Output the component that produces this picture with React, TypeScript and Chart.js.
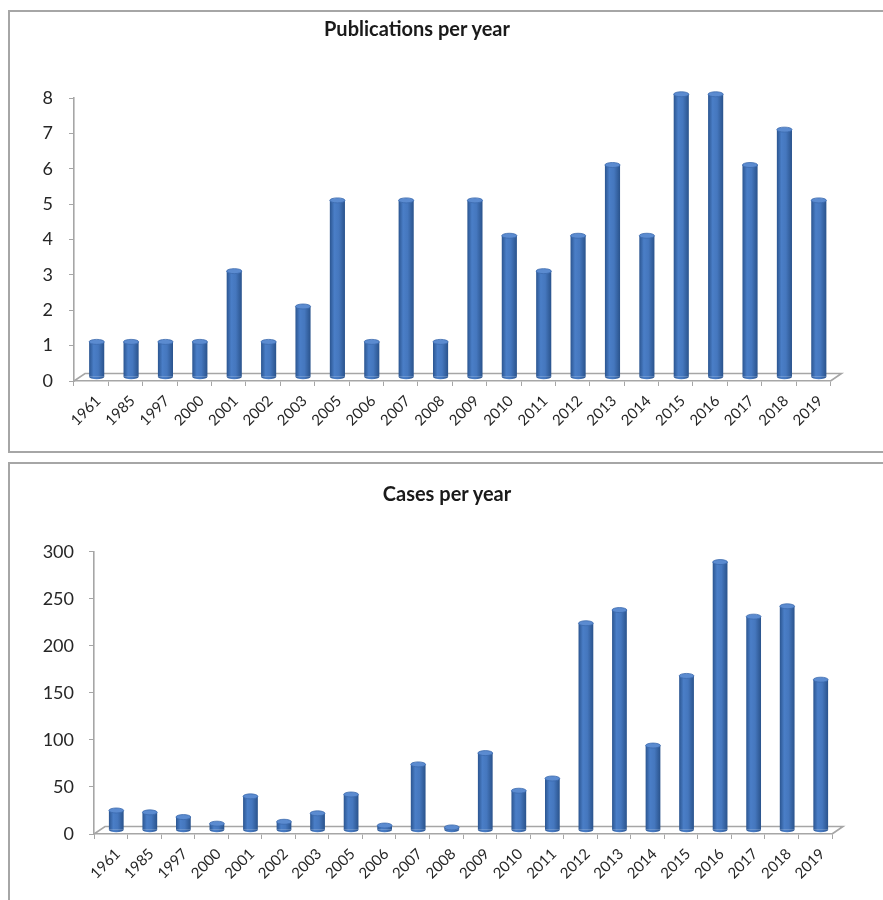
import React, { useEffect, useRef } from "react";
import { Chart, registerables } from "chart.js";

Chart.register(...registerables);

// Categories shared by both panels
const years = [
  "1961", "1985", "1997", "2000", "2001", "2002", "2003", "2005", "2006", "2007", "2008",
  "2009", "2010", "2011", "2012", "2013", "2014", "2015", "2016", "2017", "2018", "2019",
];

// Number of publications for each year
const publications = [1, 1, 1, 1, 3, 1, 2, 5, 1, 5, 1, 5, 4, 3, 4, 6, 4, 8, 8, 6, 7, 5];

// Number of reported cases for each year
const cases = [21, 19, 14, 7, 36, 9, 18, 38, 5, 70, 3, 82, 42, 55, 220, 234, 90, 164, 285, 227, 238, 160];

// Value-axis ranges
const publicationAxis = [0, 8, 1]; // min, max, step
const caseAxis = [0, 300, 50];

const FONT = "Lato, 'Open Sans', sans-serif";
const AXIS_GREY = "#a6a6a6";
const DEPTH_X = 11;
const DEPTH_Y = 7.5;

// Draws a pseudo-3D floor and cylinder-style columns around the regular bar drawing.
const cylinderPlugin = {
  id: "cylinder3d",
  beforeDatasetsDraw(chart: any) {
    const { ctx, chartArea: a } = chart;
    ctx.save();
    ctx.strokeStyle = AXIS_GREY;
    ctx.lineWidth = 1.6;
    ctx.beginPath();
    ctx.moveTo(a.left, a.bottom);
    ctx.lineTo(a.left + DEPTH_X, a.bottom - DEPTH_Y);
    ctx.lineTo(a.right + DEPTH_X, a.bottom - DEPTH_Y);
    ctx.lineTo(a.right, a.bottom);
    ctx.stroke();
    ctx.restore();

    ctx.save();
    ctx.translate(DEPTH_X / 2, -DEPTH_Y / 2);
    const meta = chart.getDatasetMeta(0);
    meta.data.forEach((bar: any) => {
      const { x, width } = bar.getProps(["x", "width"], true);
      const g = ctx.createLinearGradient(x - width / 2, 0, x + width / 2, 0);
      g.addColorStop(0, "#2b5590");
      g.addColorStop(0.3, "#4a7ec7");
      g.addColorStop(0.6, "#4577be");
      g.addColorStop(1, "#2a538c");
      bar.options = { ...bar.options, backgroundColor: g };
    });
  },
  afterDatasetsDraw(chart: any) {
    const { ctx } = chart;
    const meta = chart.getDatasetMeta(0);
    meta.data.forEach((bar: any) => {
      const { x, y, base, width } = bar.getProps(["x", "y", "base", "width"], true);
      const rx = width / 2;
      const ry = 2.5;
      // rounded bottom
      ctx.beginPath();
      ctx.ellipse(x, base, rx, ry, 0, 0, Math.PI);
      ctx.fillStyle = bar.options.backgroundColor;
      ctx.fill();
      // top cap
      ctx.beginPath();
      ctx.ellipse(x, y, rx, ry, 0, 0, Math.PI * 2);
      ctx.fillStyle = "#5b8bd0";
      ctx.fill();
      ctx.strokeStyle = "#3b69ad";
      ctx.lineWidth = 0.8;
      ctx.stroke();
    });
    ctx.restore();
  },
};

type PanelProps = {
  title: string;
  values: number[];
  axis: number[];
  top: number;
  height: number;
  canvasHeight: number;
  area: { left: number; right: number; top: number; bottom: number };
  titleCenter: number;
  titleTop: number;
  labelPadding: number;
};

function BarPanel(props: PanelProps) {
  const ref = useRef<HTMLCanvasElement | null>(null);
  const canvasWidth = 873;

  useEffect(() => {
    if (!ref.current) return;
    const { area, canvasHeight, values, axis, labelPadding } = props;
    const chart = new Chart(ref.current, {
      type: "bar",
      data: {
        labels: years,
        datasets: [
          {
            data: values,
            backgroundColor: "#4577be",
            borderWidth: 0,
            barPercentage: 0.44,
            categoryPercentage: 1,
            clip: false as any,
          },
        ],
      },
      options: {
        animation: false,
        responsive: false,
        events: [],
        layout: {
          padding: { left: 0, top: area.top, right: canvasWidth - area.right, bottom: 0 },
        },
        plugins: { legend: { display: false }, tooltip: { enabled: false }, title: { display: false } },
        scales: {
          x: {
            grid: { drawOnChartArea: false, drawTicks: true, tickLength: 5, color: AXIS_GREY, offset: true },
            border: { display: true, color: AXIS_GREY, width: 1.6 },
            ticks: {
              autoSkip: false,
              maxRotation: 45,
              minRotation: 45,
              padding: 6,
              labelOffset: 7,
              color: "#262626",
              font: { family: FONT, size: 15 },
            },
            afterFit: (s: any) => {
              s.height = canvasHeight - area.bottom;
            },
          },
          y: {
            min: axis[0],
            max: axis[1],
            grid: { drawOnChartArea: false, drawTicks: true, tickLength: 5, color: AXIS_GREY },
            border: { display: true, color: AXIS_GREY, width: 1.6 },
            ticks: {
              stepSize: axis[2],
              padding: labelPadding,
              color: "#262626",
              font: { family: FONT, size: 18 },
            },
            afterFit: (s: any) => {
              s.width = area.left;
            },
          },
        },
      },
      plugins: [cylinderPlugin],
    });
    return () => chart.destroy();
  }, []);

  return (
    <div
      style={{
        position: "absolute",
        left: 0,
        top: props.top,
        width: 900,
        height: props.height,
        boxSizing: "border-box",
        border: "2px solid #a6a6a6",
        background: "#fff",
      }}
    >
      <div
        style={{
          position: "absolute",
          left: props.titleCenter - 200,
          top: props.titleTop,
          width: 400,
          textAlign: "center",
          fontFamily: FONT,
          fontWeight: 700,
          fontSize: 20,
          lineHeight: "24px",
          color: "#1a1a1a",
        }}
      >
        {props.title}
      </div>
      <canvas
        ref={ref}
        width={canvasWidth}
        height={props.canvasHeight}
        style={{ display: "block", width: canvasWidth, height: props.canvasHeight }}
      />
    </div>
  );
}

export default function App() {
  return (
    <div style={{ position: "fixed", left: 8, top: 8, width: 875, height: 892, overflow: "hidden" }}>
      <BarPanel
        title="Publications per year"
        values={publications}
        axis={publicationAxis}
        top={2}
        height={443}
        canvasHeight={439}
        area={{ left: 64, right: 820.5, top: 86, bottom: 369 }}
        titleCenter={407}
        titleTop={3.5}
        labelPadding={16}
      />
      <BarPanel
        title="Cases per year"
        values={cases}
        axis={caseAxis}
        top={454}
        height={460}
        canvasHeight={436}
        area={{ left: 84, right: 822, top: 87.7, bottom: 370 }}
        titleCenter={437}
        titleTop={16.5}
        labelPadding={15}
      />
    </div>
  );
}
